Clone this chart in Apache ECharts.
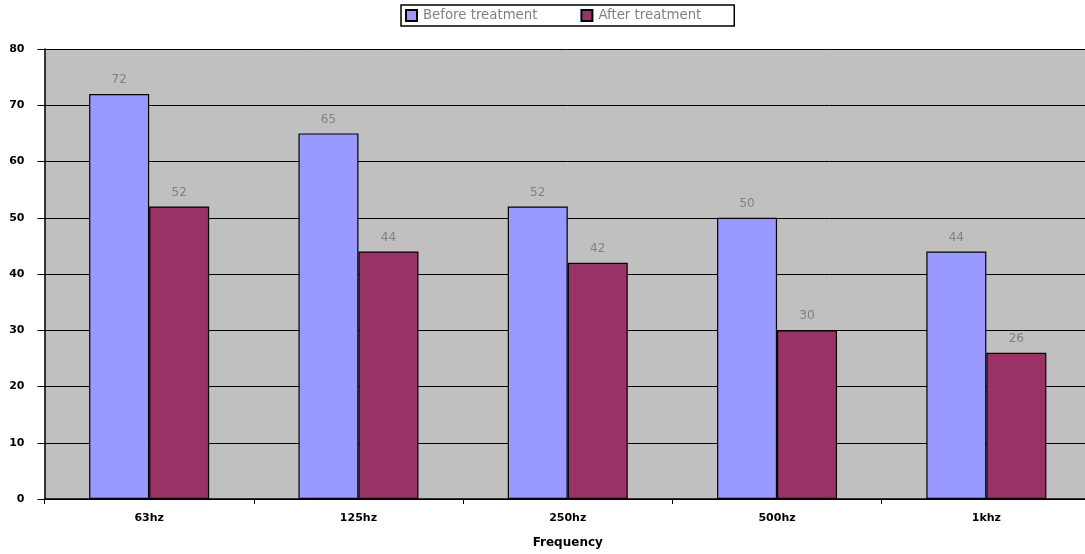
<!DOCTYPE html>
<html>
<head>
<meta charset="utf-8">
<script src="https://cdn.jsdelivr.net/npm/echarts@6/dist/echarts.min.js"></script>
<style>
  html, body { margin: 0; padding: 0; background: #ffffff; overflow: hidden; }
  /* plot area runs slightly past the right edge of the window */
  #chart { width: 1091px; height: 554px; }
</style>
</head>
<body>
<div id="chart"></div>
<script>
// Noise level by frequency band, before and after treatment
const categories = ['63hz', '125hz', '250hz', '500hz', '1khz'];
const beforeTreatment = [72, 65, 52, 50, 44];
const afterTreatment = [52, 44, 42, 30, 26];
const yTicks = { min: 0, max: 80, interval: 10 };

const chart = echarts.init(document.getElementById('chart'), null, { renderer: 'canvas' });

const labelStyle = {
  show: true,
  position: 'top',
  distance: 8,
  color: '#808080',
  fontFamily: 'DejaVu Sans',
  fontSize: 12
};

chart.setOption({
  animation: false,
  backgroundColor: '#ffffff',
  legend: {
    left: 401,
    top: 5,
    padding: [4, 33, 4, 4],
    itemGap: 43,
    itemWidth: 11,
    itemHeight: 11,
    icon: 'rect',
    borderColor: '#000000',
    borderWidth: 1.5,
    textStyle: { color: '#808080', fontFamily: 'DejaVu Sans', fontSize: 13.3, padding: [0, 0, 0, 1] },
    data: ['Before treatment', 'After treatment']
  },
  grid: {
    left: 44.5,
    width: 1046.5,
    top: 49,
    height: 450,
    show: true,
    backgroundColor: '#c0c0c0',
    borderWidth: 0
  },
  xAxis: {
    type: 'category',
    data: categories,
    name: 'Frequency',
    nameLocation: 'middle',
    nameGap: 38,
    nameTextStyle: { color: '#000000', fontFamily: 'DejaVu Sans', fontWeight: 'bold', fontSize: 12 },
    axisLine: { lineStyle: { color: '#000000', width: 1.5 } },
    axisTick: { show: true, length: 5, lineStyle: { color: '#000000' } },
    axisLabel: { color: '#000000', fontFamily: 'DejaVu Sans', fontWeight: 'bold', fontSize: 11, margin: 14 }
  },
  yAxis: {
    type: 'value',
    min: yTicks.min,
    max: yTicks.max,
    interval: yTicks.interval,
    axisLine: { show: true, lineStyle: { color: '#000000', width: 1.5 } },
    axisTick: { show: true, length: 7, lineStyle: { color: '#000000' } },
    axisLabel: { color: '#000000', fontFamily: 'DejaVu Sans', fontWeight: 'bold', fontSize: 11, margin: 20 },
    splitLine: { show: true, lineStyle: { color: '#000000', width: 1 } }
  },
  series: [
    {
      name: 'Before treatment',
      type: 'bar',
      data: beforeTreatment,
      barWidth: 60,
      barGap: '0%',
      itemStyle: { color: '#9999ff', borderColor: '#000000', borderWidth: 1.2 },
      label: labelStyle
    },
    {
      name: 'After treatment',
      type: 'bar',
      data: afterTreatment,
      barWidth: 60,
      barGap: '0%',
      itemStyle: { color: '#993366', borderColor: '#000000', borderWidth: 1.2 },
      label: labelStyle
    }
  ]
});
</script>
</body>
</html>
